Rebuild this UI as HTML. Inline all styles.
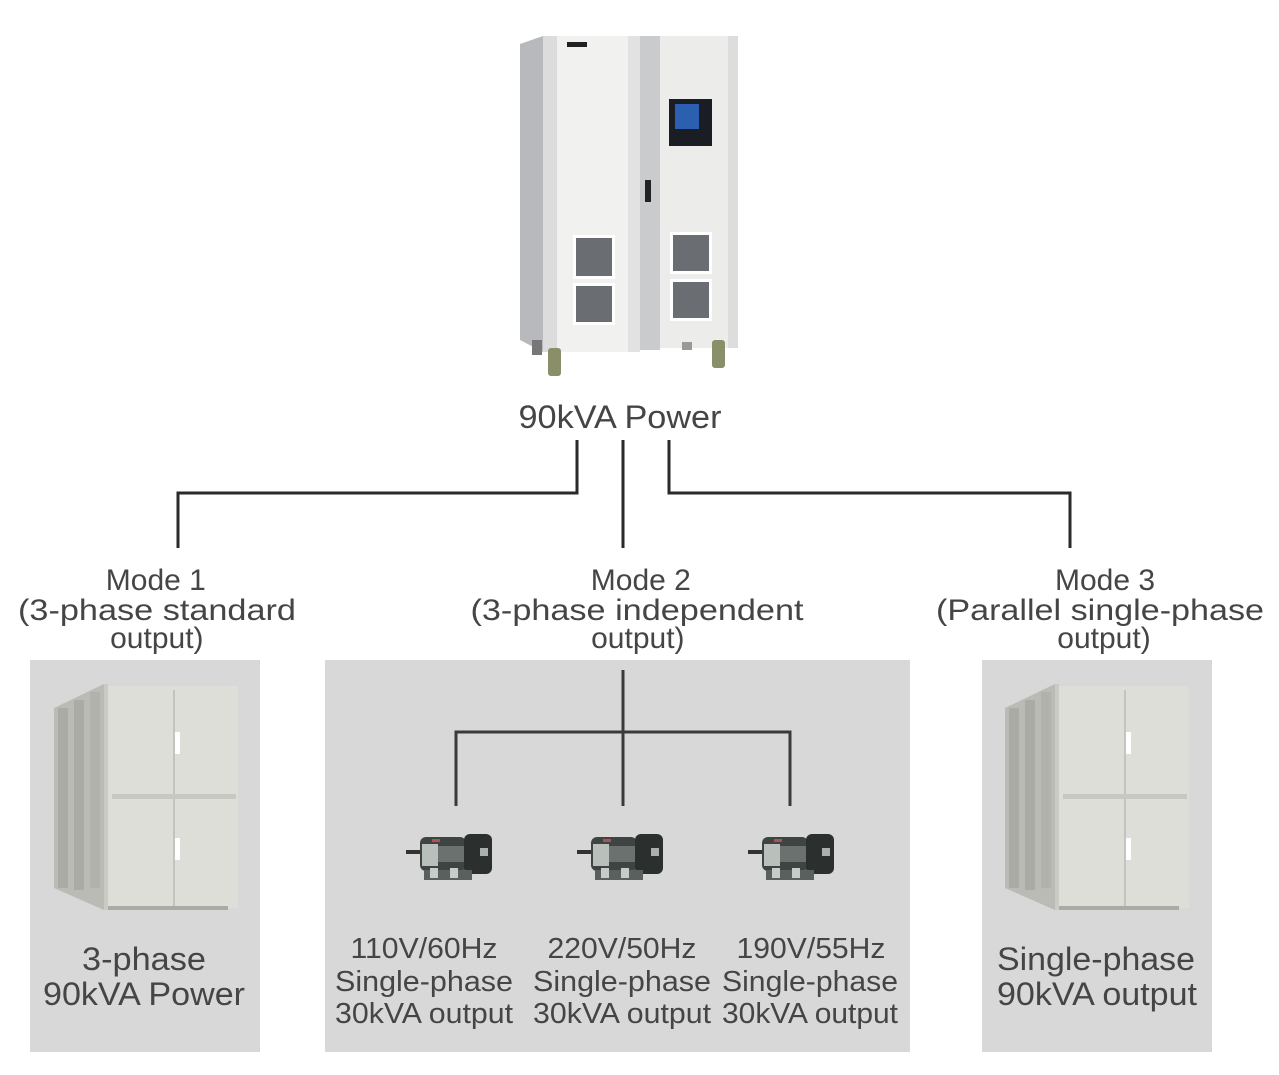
<!DOCTYPE html>
<html><head><meta charset="utf-8"><style>
html,body{margin:0;padding:0;background:#fff;}
svg{display:block;}
text{font-family:"Liberation Sans",Arial,sans-serif;fill:#454545;}
</style></head><body>
<svg width="1279" height="1075" viewBox="0 0 1279 1075" xmlns="http://www.w3.org/2000/svg">
<defs>
<g id="motor">
  <rect x="0" y="18" width="16" height="4" fill="#333"/>
  <rect x="14" y="5" width="46" height="34" rx="6" fill="#3d4442"/>
  <rect x="16" y="12" width="16" height="22" fill="#b9bfbb"/>
  <rect x="32" y="14" width="26" height="16" fill="#6a716e"/>
  <rect x="58" y="2" width="28" height="40" rx="6" fill="#2b302e"/>
  <rect x="74" y="16" width="8" height="8" fill="#aab0ad"/>
  <rect x="18" y="38" width="48" height="10" fill="#5a605d"/>
  <rect x="24" y="36" width="8" height="10" fill="#c8ccc9"/>
  <rect x="44" y="36" width="8" height="10" fill="#c8ccc9"/>
  <rect x="26" y="7" width="8" height="3" fill="#a55"/>
</g>
<g id="box">
  <polygon points="24,38 74,14 74,240 24,218" fill="#b9bbb4"/>
  <rect x="28" y="38" width="10" height="180" fill="#a9aba4"/>
  <rect x="44" y="30" width="10" height="190" fill="#a9aba4"/>
  <rect x="60" y="22" width="10" height="196" fill="#b0b2ab"/>
  <rect x="74" y="14" width="4" height="226" fill="#c9cbc4"/>
  <rect x="78" y="16" width="130" height="222" fill="#dcded7"/>
  <line x1="144" y1="20" x2="144" y2="236" stroke="#c2c4bd" stroke-width="2"/>
  <rect x="82" y="124" width="124" height="5" fill="#c6c8c1"/>
  <rect x="145" y="62" width="5" height="22" fill="#fff"/>
  <rect x="145" y="168" width="5" height="22" fill="#fff"/>
  <rect x="78" y="236" width="120" height="4" fill="#a9aba4"/>
</g>
</defs>

<!-- top cabinet -->
<polygon points="520,44 543,36 543,352 520,340" fill="#b7b9bd"/>
<rect x="543" y="36" width="97" height="316" fill="#f1f1ef"/>
<rect x="543" y="36" width="14" height="316" fill="#dcdcdc"/>
<rect x="628" y="36" width="12" height="316" fill="#e2e2e2"/>
<rect x="640" y="36" width="20" height="314" fill="#c9cbcc"/>
<rect x="660" y="36" width="78" height="312" fill="#ececea"/>
<rect x="728" y="36" width="10" height="312" fill="#dddddd"/>
<rect x="567" y="42" width="20" height="5" fill="#222"/>
<rect x="669" y="99" width="43" height="47" fill="#1b1d24"/>
<rect x="675" y="104" width="24" height="25" fill="#2b5fb0"/>
<rect x="645" y="180" width="6" height="22" fill="#222"/>
<rect x="573" y="235" width="42" height="44" fill="#fff"/>
<rect x="576" y="238" width="36" height="38" fill="#6a6d72"/>
<rect x="573" y="283" width="42" height="42" fill="#fff"/>
<rect x="576" y="286" width="36" height="36" fill="#6a6d72"/>
<rect x="670" y="232" width="42" height="42" fill="#fff"/>
<rect x="673" y="235" width="36" height="36" fill="#6a6d72"/>
<rect x="670" y="279" width="42" height="42" fill="#fff"/>
<rect x="673" y="282" width="36" height="36" fill="#6a6d72"/>
<rect x="548" y="348" width="13" height="28" rx="3" fill="#8a8f6a"/>
<rect x="712" y="340" width="13" height="28" rx="3" fill="#8a8f6a"/>
<rect x="682" y="342" width="10" height="8" fill="#999"/>
<rect x="532" y="340" width="10" height="15" fill="#777"/>

<text x="620" y="428" font-size="32" text-anchor="middle" textLength="203" lengthAdjust="spacingAndGlyphs">90kVA Power</text>

<g stroke="#2a2a2a" stroke-width="3" fill="none">
  <polyline points="577,440 577,493 178,493 178,548"/>
  <line x1="623" y1="440" x2="623" y2="548"/>
  <polyline points="669,440 669,493 1070,493 1070,548"/>
</g>

<text font-size="30" text-anchor="middle">
  <tspan x="160" y="590">Mode 1</tspan>
  <tspan x="645" y="590">Mode 2</tspan>
  <tspan x="1105" y="590">Mode 3</tspan>
</text>
<text x="157" y="620" font-size="30" text-anchor="middle" textLength="278" lengthAdjust="spacingAndGlyphs">(3-phase standard</text>
<text x="637" y="620" font-size="30" text-anchor="middle" textLength="333" lengthAdjust="spacingAndGlyphs">(3-phase independent</text>
<text x="1100" y="620" font-size="30" text-anchor="middle" textLength="328" lengthAdjust="spacingAndGlyphs">(Parallel single-phase</text>
<text font-size="30" text-anchor="middle">
  <tspan x="161" y="648">output)</tspan>
  <tspan x="642" y="648">output)</tspan>
  <tspan x="1104" y="648">output)</tspan>
</text>

<rect x="30" y="660" width="230" height="392" fill="#d8d8d8"/>
<rect x="325" y="660" width="585" height="392" fill="#d8d8d8"/>
<rect x="982" y="660" width="230" height="392" fill="#d8d8d8"/>

<use href="#box" x="30" y="670"/>
<use href="#box" x="981" y="670"/>

<g stroke="#3a3a3a" stroke-width="3" fill="none">
  <line x1="623" y1="670" x2="623" y2="806"/>
  <polyline points="456,806 456,732 790,732 790,806"/>
</g>

<use href="#motor" x="406" y="832"/>
<use href="#motor" x="577" y="832"/>
<use href="#motor" x="748" y="832"/>

<g font-size="29">
<text x="424" y="958" text-anchor="middle" textLength="147" lengthAdjust="spacingAndGlyphs">110V/60Hz</text>
<text x="424" y="991" text-anchor="middle" textLength="178" lengthAdjust="spacingAndGlyphs">Single-phase</text>
<text x="424" y="1023" text-anchor="middle" textLength="178" lengthAdjust="spacingAndGlyphs">30kVA output</text>
<text x="622" y="958" text-anchor="middle" textLength="149" lengthAdjust="spacingAndGlyphs">220V/50Hz</text>
<text x="622" y="991" text-anchor="middle" textLength="178" lengthAdjust="spacingAndGlyphs">Single-phase</text>
<text x="622" y="1023" text-anchor="middle" textLength="178" lengthAdjust="spacingAndGlyphs">30kVA output</text>
<text x="811" y="958" text-anchor="middle" textLength="149" lengthAdjust="spacingAndGlyphs">190V/55Hz</text>
<text x="810" y="991" text-anchor="middle" textLength="176" lengthAdjust="spacingAndGlyphs">Single-phase</text>
<text x="810" y="1023" text-anchor="middle" textLength="176" lengthAdjust="spacingAndGlyphs">30kVA output</text>
</g>

<g font-size="32">
<text x="144" y="970" text-anchor="middle" textLength="124" lengthAdjust="spacingAndGlyphs">3-phase</text>
<text x="144" y="1005" text-anchor="middle" textLength="202" lengthAdjust="spacingAndGlyphs">90kVA Power</text>
<text x="1096" y="970" text-anchor="middle" textLength="198" lengthAdjust="spacingAndGlyphs">Single-phase</text>
<text x="1097" y="1005" text-anchor="middle" textLength="200" lengthAdjust="spacingAndGlyphs">90kVA output</text>
</g>
</svg>
</body></html>
